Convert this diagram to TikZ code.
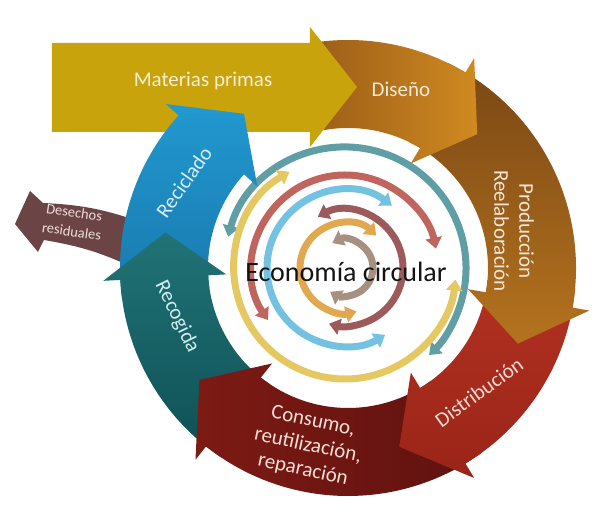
\documentclass[tikz,border=0pt]{standalone}
\usepackage{fontspec}
\setmainfont{Carlito}
\usetikzlibrary{arrows.meta}
\definecolor{rawyel}{HTML}{C9A30C}
\definecolor{ringteal}{HTML}{5E9EA4}
\definecolor{ringyel}{HTML}{E5C862}
\definecolor{ringrose}{HTML}{C0645E}
\definecolor{ringblue}{HTML}{74C2E2}
\definecolor{ringmauve}{HTML}{9C5A5A}
\definecolor{ringorange}{HTML}{E2A850}
\definecolor{ringgrey}{HTML}{A89080}
\definecolor{waste}{HTML}{6B4446}
\definecolor{recytop}{HTML}{2199D0}
\definecolor{recybot}{HTML}{1A78AE}
\newcommand{\bandarrow}[4]{%
  \path[#4] (#1:228) arc[start angle=#1, end angle=#2, radius=228]
    -- (#2:245) -- (#3:186) -- (#2:122) -- (#2:140)
    arc[start angle=#2, end angle=#1, radius=140] -- cycle;}

\begin{document}
\begin{tikzpicture}[x=1pt, y=1pt,
  ring/.style={line width=7pt, <->, >={Triangle[width=16pt,length=11pt]}},
  lbl/.style={font=\fontsize{21}{25}\selectfont, align=center}]
\useasboundingbox (-348,-250) rectangle (265,268);
\begin{scope}[shift={(-3,0)}]
\foreach \c/\r/\a/\b in {ringteal/121/165/-46, ringyel/111/120/354,
  ringrose/93/214/12, ringblue/78/53/301, ringmauve/58/118/-106,
  ringorange/45/46/285, ringgrey/28/117/-122}
  \draw[ring, \c] (\a:\r) arc[start angle=\a, end angle=\b, radius=\r];
\end{scope}
\fill[waste] (-333,44) -- (-318,77) -- (-305,65) to[bend left=8] (-210,47)
  -- (-210,-2) to[bend right=8] (-304,28) -- (-310,16) -- cycle;
\bandarrow{188}{138}{124}{top color=recytop, bottom color=recybot}
\bandarrow{236}{183}{169}{top color={rgb,255:red,33;green,115;blue,118}, bottom color={rgb,255:red,14;green,80;blue,86}}
\bandarrow{306}{231.5}{217}{left color={rgb,255:red,125;green,26;blue,20}, right color={rgb,255:red,95;green,18;blue,16}}
\bandarrow{-5}{-59}{-74}{top color={rgb,255:red,178;green,50;blue,34}, bottom color={rgb,255:red,154;green,36;blue,24}}
\bandarrow{64}{-10}{-24}{top color={rgb,255:red,122;green,71;blue,20}, bottom color={rgb,255:red,181;green,115;blue,31}}
\bandarrow{100}{59}{46}{left color={rgb,255:red,154;green,92;blue,24}, right color={rgb,255:red,208;green,138;blue,32}}
\fill[rawyel] (-296,225) -- (-38,225) -- (-38,241) -- (9,181) -- (-38,121)
  -- (-38,136) -- (-296,136) -- cycle;
\begin{scope}
\clip (-296,225) rectangle (-38,136);
\bandarrow{188}{138}{124}{top color=recytop, bottom color=recybot}
\end{scope}
\node[lbl, anchor=base, text={rgb,255:red,245;green,238;blue,212}] (mat) at (-145,181) {Materias primas};
\node[lbl, anchor=base, text={rgb,255:red,248;green,234;blue,216}] (dis) at (53,171) {Diseño};
\node[lbl, rotate=-90, text={rgb,255:red,246;green,230;blue,216}] (pro) at (166,37) {Producción\\Reelaboración};
\node[lbl, rotate=36, text={rgb,255:red,246;green,218;blue,208}] (dtr) at (131,-124) {Distribución};
\node[lbl, rotate=-12, text={rgb,255:red,246;green,222;blue,214}] (con) at (-40,-178) {Consumo,\\reutilización,\\reparación};
\node[lbl, rotate=-64, text={rgb,255:red,210;green,238;blue,240}] (rec) at (-171,-49) {Recogida};
\node[lbl, rotate=55, text={rgb,255:red,214;green,238;blue,248}] (rcl) at (-164,86) {Reciclado};
\node[font=\fontsize{14.5}{19}\selectfont, align=center, rotate=-8,
  text={rgb,255:red,240;green,220;blue,220}] (des) at (-275,46) {Desechos\\residuales};
\node[font=\fontsize{28}{32}\selectfont, text={rgb,255:red,20;green,20;blue,20}] (eco) at (-2,-4) {Economía circular};
\end{tikzpicture}
\end{document}
